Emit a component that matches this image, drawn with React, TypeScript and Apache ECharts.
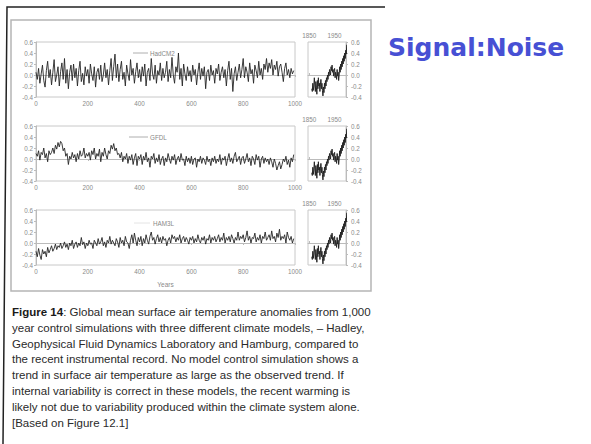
import React, { useEffect, useRef } from "react";
import * as echarts from "echarts";

// ---- data ----
const yearStep = 5; // control-run years 0..995
const hadcm2 = [
  0.05,-0.08,0.12,-0.15,0.02,0.18,-0.1,-0.22,0.08,0.25,-0.05,0.1,-0.18,0.05,0.28,-0.12,0.0,0.15,-0.2,0.06,
  0.22,-0.08,0.3,-0.15,0.1,-0.25,0.05,0.18,-0.1,0.2,-0.05,0.12,-0.2,0.08,0.25,-0.12,0.03,-0.18,0.15,-0.02,
  0.1,-0.15,0.2,0.02,-0.1,0.15,-0.22,0.05,0.12,-0.08,0.18,-0.12,0.0,0.22,-0.05,0.1,-0.18,0.08,0.3,-0.1,
  0.15,0.38,-0.05,0.2,-0.12,0.1,0.25,-0.08,0.05,-0.2,0.18,0.02,-0.1,0.28,0.0,0.12,-0.15,0.06,0.22,-0.05,
  0.1,-0.12,0.15,-0.02,0.2,-0.2,0.05,0.12,-0.1,0.3,0.02,-0.08,0.18,-0.15,0.08,0.0,0.22,-0.1,0.12,-0.05,
  0.05,0.25,-0.12,0.1,-0.05,0.32,0.0,-0.15,0.15,0.05,0.4,-0.08,0.12,-0.2,0.2,0.02,-0.1,0.15,-0.02,0.08,
  -0.12,0.18,0.0,0.1,-0.18,0.05,0.22,-0.08,0.12,-0.02,0.15,-0.25,0.05,0.1,-0.1,0.18,0.0,0.08,-0.15,0.12,
  0.02,0.2,-0.1,0.05,0.15,-0.05,0.1,-0.2,0.08,0.25,-0.08,0.12,-0.3,0.02,0.15,-0.1,0.05,0.2,-0.05,0.1,
  0.3,-0.05,0.15,0.05,-0.12,0.22,0.02,0.1,-0.15,0.18,0.08,-0.05,0.25,0.0,0.12,-0.08,0.2,0.1,0.3,0.05,
  0.22,0.12,0.28,0.0,0.18,0.1,0.25,-0.02,0.15,0.2,0.05,-0.12,0.12,0.22,0.0,0.1,-0.05,0.12,0.02,0.08,
];
const gfdl = [
  0.1,0.05,0.15,-0.02,0.12,0.08,0.2,0.02,0.1,-0.05,0.15,0.08,0.12,0.2,0.1,0.25,0.18,0.3,0.22,0.32,
  0.28,0.15,0.2,0.05,0.1,-0.1,0.05,0.0,0.12,0.02,0.08,-0.05,0.1,0.0,0.15,0.05,0.08,0.2,0.02,0.1,
  0.05,0.12,-0.02,0.15,0.08,0.2,0.0,0.1,0.05,0.18,-0.05,0.12,0.05,0.2,0.08,0.0,0.15,0.1,0.25,0.18,
  0.28,0.15,0.2,0.08,0.1,0.02,0.12,-0.05,0.05,0.0,0.1,-0.08,0.05,-0.02,0.08,-0.1,0.02,0.1,-0.12,0.05,
  0.0,0.08,-0.1,0.05,-0.02,0.12,-0.05,0.02,-0.15,0.05,0.0,0.1,-0.08,0.02,-0.05,0.08,-0.1,0.0,0.05,-0.12,
  0.02,-0.05,0.1,0.0,-0.08,0.05,-0.02,0.08,-0.1,0.0,0.05,-0.05,0.1,-0.02,0.0,-0.12,0.05,-0.05,0.02,-0.08,
  0.05,-0.1,0.0,0.02,-0.15,0.0,-0.05,0.05,-0.08,0.02,-0.02,-0.1,0.05,-0.05,0.0,-0.12,0.02,-0.05,0.05,-0.08,
  0.0,-0.05,0.08,-0.1,0.02,-0.02,0.05,-0.12,0.0,0.1,-0.05,0.02,-0.08,0.05,0.12,-0.05,0.0,0.05,-0.1,0.02,
  0.05,-0.08,0.0,0.1,-0.05,0.02,-0.12,0.05,0.0,-0.1,0.08,-0.02,0.05,-0.15,0.0,0.05,-0.08,0.02,-0.05,0.0,
  -0.1,0.02,-0.05,-0.15,0.0,-0.08,-0.2,-0.12,-0.05,-0.18,-0.1,0.0,-0.05,0.05,-0.1,-0.02,-0.15,0.02,-0.05,0.08,
];
const ham3l = [
  -0.15,-0.25,-0.1,-0.22,-0.3,-0.12,-0.2,-0.15,-0.25,-0.08,-0.18,-0.12,-0.05,-0.15,-0.1,-0.02,-0.12,-0.05,-0.08,0.0,
  -0.1,-0.05,0.02,-0.08,-0.02,-0.12,0.0,-0.05,0.05,-0.1,-0.02,0.02,-0.08,0.0,-0.05,0.1,-0.03,0.02,-0.1,0.0,
  -0.05,0.05,-0.02,0.0,-0.1,0.05,0.0,-0.05,0.08,-0.02,0.02,0.1,-0.05,0.02,-0.08,0.05,0.0,0.12,-0.02,0.05,
  0.0,-0.05,0.08,0.02,-0.08,0.1,0.0,0.05,-0.05,0.12,0.02,0.0,-0.1,0.05,0.15,0.0,0.18,0.05,-0.05,0.1,
  0.02,0.12,-0.05,0.08,0.0,0.15,0.05,-0.02,0.12,0.2,0.05,0.1,-0.02,0.08,0.15,0.02,0.1,0.0,0.12,0.05,
  0.08,-0.05,0.05,0.1,0.0,0.15,0.08,0.12,0.02,0.1,0.05,0.15,0.0,0.08,0.12,0.02,0.1,0.05,-0.02,0.1,
  0.05,0.12,0.0,0.08,0.02,0.15,0.05,0.0,0.1,0.05,0.12,-0.02,0.08,0.05,0.15,0.0,0.1,0.05,0.12,0.02,
  0.08,0.15,0.02,0.1,0.05,0.18,0.0,0.1,0.05,0.12,0.02,0.15,0.08,0.0,0.1,0.05,0.2,0.05,0.12,0.08,
  0.15,0.02,0.1,0.22,0.05,0.12,0.0,0.1,0.08,0.18,0.02,0.1,0.05,0.15,0.0,0.12,0.08,0.2,0.05,0.1,
  0.15,0.05,0.22,0.08,0.12,0.02,0.18,0.1,0.25,0.05,0.12,0.08,0.15,0.0,0.2,0.1,0.05,0.12,0.0,0.08,
];
const obsStart = 1860;
const obsStep = 2;
const observed = [
  -0.25,-0.3,-0.15,-0.28,-0.2,-0.05,-0.18,-0.3,-0.12,-0.22,-0.35,-0.1,-0.25,-0.05,-0.2,-0.15,-0.3,-0.18,-0.08,-0.25,
  -0.15,-0.28,-0.38,-0.22,-0.32,-0.15,-0.25,-0.1,-0.2,-0.05,-0.12,0.0,-0.08,0.05,-0.02,0.1,0.05,0.0,0.15,0.08,
  0.18,0.05,0.1,-0.02,0.08,0.12,-0.05,0.05,0.0,-0.08,0.1,-0.02,0.05,-0.1,0.0,0.15,0.05,0.2,0.1,0.25,
  0.15,0.3,0.2,0.35,0.25,0.4,0.3,0.45,0.38,0.55,
];
const modelNames = ["HadCM2", "GFDL", "HAM3L"];
const modelSeries = [hadcm2, gfdl, ham3l];
const xTicks = [0, 200, 400, 600, 800, 1000];
const obsTicks = [1850, 1950];
const captionLines = [
  "{b|Figure 14}: Global mean surface air temperature anomalies from 1,000",
  "year control simulations with three different climate models, – Hadley,",
  "Geophysical Fluid Dynamics Laboratory and Hamburg, compared to",
  "the recent instrumental record. No model control simulation shows a",
  "trend in surface air temperature as large as the observed trend. If",
  "internal variability is correct in these models, the recent warming is",
  "likely not due to variability produced within the climate system alone.",
  "[Based on Figure 12.1]",
];
const title = "Signal:Noise";

export default function App() {
  const ref = useRef<HTMLDivElement>(null);
  useEffect(() => {
    if (!ref.current) return;
    const chart = echarts.init(ref.current, undefined, { renderer: "svg" });
    const tops = [42, 126, 210];
    const H = 55;
    const font = "Liberation Sans, Arial, sans-serif";
    const lab = { fontSize: 6.3, color: "#8a8a8a", fontFamily: font };
    const axLine = { show: true, lineStyle: { color: "#bbb", width: 1 } };
    const grids: any[] = [];
    const xAxes: any[] = [];
    const yAxes: any[] = [];
    const series: any[] = [];
    const yFmt = (v: number) => v.toFixed(1);
    const xFmt = (v: number) => String(v);
    tops.forEach((t, p) => {
      grids.push({ left: 36, top: t, width: 259, height: H, show: true, borderColor: "#c8c8c8", borderWidth: 1, backgroundColor: "transparent" });
      grids.push({ left: 308, top: t, width: 38, height: H, show: true, borderColor: "#c8c8c8", borderWidth: 1, backgroundColor: "transparent" });
      xAxes.push({
        type: "value", gridIndex: 2 * p, min: 0, max: 1000, interval: 200,
        axisLine: axLine, axisTick: { show: true, length: 2, lineStyle: { color: "#bbb" } },
        axisLabel: { ...lab, margin: 3, customValues: xTicks, formatter: xFmt }, splitLine: { show: false },
        ...(p === 2 ? { name: "Years", nameLocation: "middle", nameGap: 16, nameTextStyle: { ...lab, fontSize: 6.5 } } : {}),
      });
      xAxes.push({
        type: "value", gridIndex: 2 * p + 1, min: 1845, max: 1995, position: "top",
        axisLine: axLine, axisTick: { show: true, length: 2, customValues: obsTicks, lineStyle: { color: "#bbb" } },
        axisLabel: { ...lab, margin: 4, customValues: obsTicks, formatter: xFmt }, splitLine: { show: false },
      });
      yAxes.push({
        type: "value", gridIndex: 2 * p, min: -0.4, max: 0.6, interval: 0.2, position: "left",
        axisLine: axLine, axisTick: { show: true, length: 2, lineStyle: { color: "#bbb" } },
        axisLabel: { ...lab, margin: 3, formatter: yFmt }, splitLine: { show: false },
      });
      yAxes.push({
        type: "value", gridIndex: 2 * p + 1, min: -0.4, max: 0.6, interval: 0.2, position: "right",
        axisLine: axLine, axisTick: { show: true, length: 2, lineStyle: { color: "#bbb" } },
        axisLabel: { ...lab, margin: 5, formatter: yFmt }, splitLine: { show: false },
      });
      series.push({
        type: "line", name: modelNames[p], xAxisIndex: 2 * p, yAxisIndex: 2 * p,
        data: modelSeries[p].map((v, i) => [i * yearStep, v]),
        showSymbol: false, lineStyle: { color: "#262626", width: 0.9 }, silent: true,
      });
      series.push({
        type: "line", name: "Observed", xAxisIndex: 2 * p + 1, yAxisIndex: 2 * p + 1,
        data: observed.map((v, i) => [obsStart + i * obsStep, v]),
        showSymbol: false, lineStyle: { color: "#262626", width: 1 }, silent: true,
      });
    });
    const legendPos = [
      { x1: 133, x2: 148, y: 53, tx: 150 },
      { x1: 129, x2: 148, y: 137, tx: 150 },
      { x1: 134, x2: 150, y: 223, tx: 153 },
    ];
    const graphics: any[] = [
      { type: "polyline", shape: { points: [[385, 7], [7, 7], [3, 444]] }, style: { stroke: "#222", lineWidth: 1.5, fill: null } },
      { type: "rect", shape: { x: 11, y: 20, width: 360, height: 271 }, style: { stroke: "#b5b5b5", lineWidth: 1.5, fill: null } },
      {
        type: "text", x: 388, y: 47,
        style: { text: title, fontSize: 25, fontWeight: "bold", fontFamily: "DejaVu Sans, sans-serif", fill: "#4750d4", textVerticalAlign: "middle" },
      },
    ];
    legendPos.forEach((l, p) => {
      graphics.push({ type: "line", shape: { x1: l.x1, y1: l.y, x2: l.x2, y2: l.y }, style: { stroke: p === 2 ? "#ddd" : "#999", lineWidth: 0.8 } });
      graphics.push({ type: "text", x: l.tx, y: l.y, style: { text: modelNames[p], fontSize: 6.3, fontFamily: font, fill: "#888", textVerticalAlign: "middle" } });
    });
    captionLines.forEach((line, i) => {
      graphics.push({
        type: "text", x: 12, y: 312 + i * 15.8,
        style: {
          text: line, fontSize: 11.5, fontFamily: font, fill: "#2a2a2a", textVerticalAlign: "middle",
          rich: { b: { fontSize: 11.5, fontFamily: font, fontWeight: "bold", fill: "#1a1a1a" } },
        },
      });
    });
    chart.setOption({
      animation: false,
      backgroundColor: "#fff",
      grid: grids,
      xAxis: xAxes,
      yAxis: yAxes,
      series,
      graphic: graphics,
    });
    return () => chart.dispose();
  }, []);
  return <div ref={ref} style={{ position: "absolute", left: 0, top: 0, width: 591, height: 444 }} />;
}
